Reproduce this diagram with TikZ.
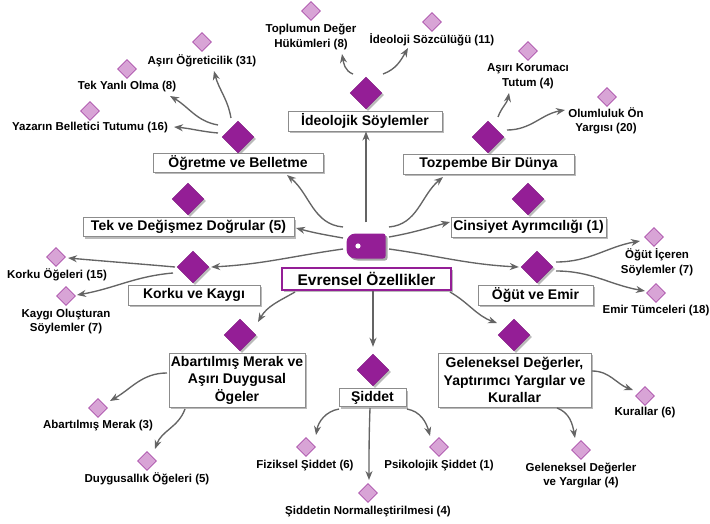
\documentclass[tikz,border=0pt]{standalone}
\usepackage{fontspec}
\setmainfont{Liberation Sans}
\usetikzlibrary{shapes.geometric,shadows,arrows.meta,calc}
\definecolor{dpurple}{RGB}{148,30,150}
\definecolor{lpurple}{RGB}{216,164,214}
\definecolor{lborder}{RGB}{170,80,170}
\definecolor{conncol}{RGB}{100,100,100}
\definecolor{boxborder}{RGB}{140,140,140}
\begin{document}
\begin{tikzpicture}[x=1pt,y=1pt,
  shad/.style={drop shadow={shadow xshift=2pt,shadow yshift=-2pt,fill=black!45,opacity=0.6}},
  mainbox/.style={draw=boxborder, line width=0.9pt, fill=white, inner sep=0pt,
    font=\fontsize{14}{17.5}\selectfont\bfseries, align=center, shad},
  bigdia/.style={diamond, fill=dpurple, draw=dpurple!85!black, line width=0.4pt,
    minimum width=32pt, minimum height=32pt, inner sep=0pt, shad},
  smalldia/.style={diamond, fill=lpurple, draw=lborder, line width=0.7pt,
    minimum width=19pt, minimum height=19pt, inner sep=0pt},
  leaf/.style={font=\fontsize{11.5}{14.5}\selectfont\bfseries, align=center, inner sep=0pt},
  conn/.style={draw=conncol, line width=1.35pt, -{Stealth[length=9pt,width=7pt]}}
]
\useasboundingbox (0,0) rectangle (710,-524);

% hub
\node[minimum width=39pt,minimum height=25pt,inner sep=0pt] (hub) at (366,-246) {};
\fill[black!35] (374,-235.5) [rounded corners=9pt] -- (348.5,-235.5) -- (348.5,-260.5) -- (374,-260.5)
  [rounded corners=2.5pt] -- (387.5,-260.5) -- (387.5,-235.5) -- cycle;
\fill[dpurple] (372,-233.5) [rounded corners=9pt] -- (346.5,-233.5) -- (346.5,-258.5) -- (372,-258.5)
  [rounded corners=2.5pt] -- (385.5,-258.5) -- (385.5,-233.5) -- cycle;
\fill[white] (358,-246) circle (2.6);

\node[mainbox, draw=dpurple, line width=1.6pt, font=\fontsize{15.5}{18}\selectfont\bfseries,
  minimum width=169pt, minimum height=22pt] (evr) at (366.5,-279) {Evrensel Özellikler};

% main diamonds and boxes
\node[bigdia] (ideod) at (366,-93) {};
\node[mainbox, minimum width=154pt, minimum height=20pt] (ideo) at (365,-121) {İdeolojik Söylemler};
\node[bigdia] (ogrd) at (238,-137) {};
\node[mainbox, minimum width=170pt, minimum height=19pt] (ogr) at (238,-163) {Öğretme ve Belletme};
\node[bigdia] (tozd) at (488,-137) {};
\node[mainbox, minimum width=171pt, minimum height=20pt] (toz) at (488.5,-164) {Tozpembe Bir Dünya};
\node[bigdia] (tekd) at (188,-199) {};
\node[mainbox, minimum width=211pt, minimum height=19pt] (tek) at (188.5,-227) {Tek ve Değişmez Doğrular (5)};
\node[bigdia] (cinsd) at (528,-199) {};
\node[mainbox, minimum width=155pt, minimum height=20pt] (cins) at (528.5,-227) {Cinsiyet Ayrımcılığı (1)};
\node[bigdia] (korkud) at (193,-267) {};
\node[mainbox, minimum width=132pt, minimum height=20pt] (korku) at (194,-295) {Korku ve Kaygı};
\node[bigdia] (ogutd) at (537,-267) {};
\node[mainbox, minimum width=115pt, minimum height=20pt] (ogut) at (535.5,-295) {Öğüt ve Emir};
\node[bigdia] (abard) at (240,-335) {};
\node[mainbox, minimum width=136pt, minimum height=54pt] (abar) at (237,-380) {Abartılmış Merak ve\\Aşırı Duygusal\\Ögeler};
\node[bigdia] (siddetd) at (373,-370) {};
\node[mainbox, minimum width=67pt, minimum height=18pt] (siddet) at (372.5,-397.5) {Şiddet};
\node[bigdia] (gelend) at (514,-335) {};
\node[mainbox, minimum width=153pt, minimum height=54pt] (gelen) at (514.5,-380) {Geleneksel Değerler,\\Yaptırımcı Yargılar ve\\Kurallar};

% leaves
\node[smalldia] (l1) at (202,-42) {};  \node[leaf] (t1) at (202,-61) {Aşırı Öğreticilik (31)};
\node[smalldia] (l2) at (127,-69) {};  \node[leaf] (t2) at (127,-87) {Tek Yanlı Olma (8)};
\node[smalldia] (l3) at (90,-111) {};  \node[leaf] (t3) at (90,-128) {Yazarın Belletici Tutumu (16)};
\node[smalldia] (l4) at (311,-11) {};  \node[leaf] (t4) at (311,-37) {Toplumun Değer\\Hükümleri (8)};
\node[smalldia] (l5) at (432,-22) {};  \node[leaf] (t5) at (432,-40) {İdeoloji Sözcülüğü (11)};
\node[smalldia] (l6) at (528,-51) {};  \node[leaf] (t6) at (528,-76) {Aşırı Korumacı\\Tutum (4)};
\node[smalldia] (l7) at (607,-97) {};  \node[leaf] (t7) at (606,-121) {Olumluluk Ön\\Yargısı (20)};
\node[smalldia] (l8) at (56,-257) {};  \node[leaf] (t8) at (57,-275) {Korku Öğeleri (15)};
\node[smalldia] (l9) at (66,-296) {};  \node[leaf] (t9) at (66,-321.5) {Kaygı Oluşturan\\Söylemler (7)};
\node[smalldia] (l10) at (654,-237) {}; \node[leaf] (t10) at (657,-262.5) {Öğüt İçeren\\Söylemler (7)};
\node[smalldia] (l11) at (656,-293) {}; \node[leaf] (t11) at (656,-311) {Emir Tümceleri (18)};
\node[smalldia] (l12) at (98,-408) {};  \node[leaf] (t12) at (98,-426) {Abartılmış Merak (3)};
\node[smalldia] (l13) at (147,-461) {}; \node[leaf] (t13) at (147,-479) {Duygusallık Öğeleri (5)};
\node[smalldia] (l14) at (306,-447) {}; \node[leaf] (t14) at (305,-466) {Fiziksel Şiddet (6)};
\node[smalldia] (l15) at (439,-447) {}; \node[leaf] (t15) at (439,-466) {Psikolojik Şiddet (1)};
\node[smalldia] (l16) at (368,-493) {}; \node[leaf] (t16) at (368,-512) {Şiddetin Normalleştirilmesi (4)};
\node[smalldia] (l17) at (645,-396) {}; \node[leaf] (t17) at (645,-413) {Kurallar (6)};
\node[smalldia] (l18) at (581,-450) {}; \node[leaf] (t18) at (581,-475.5) {Geleneksel Değerler\\ve Yargılar (4)};

% main connectors
\draw[conn, shorten <=11pt] (hub.north) -- (hub.north |- ideo.south);
\draw[conn] ($(hub)+(-23,19)$) to[out=175,in=-40] ($(ogr)+(49,-12)$);
\draw[conn] ($(hub)+(23,19)$) to[out=5,in=-140] ($(toz)+(-45.5,-13)$);
\draw[conn] ($(hub)+(-23,8)$) to[out=170,in=-15] ($(tek)+(107.5,-1)$);
\draw[conn] ($(hub)+(23,9)$) to[out=10,in=195] ($(cins)+(-78.5,5)$);
\draw[conn] ($(hub)+(-23,-3)$) to[out=188,in=3] ($(korkud.east)+(2,0)$);
\draw[conn] ($(hub)+(23,-3)$) to[out=-8,in=177] ($(ogutd.west)+(-2,0)$);
\draw[conn] ($(evr)+(-71.5,-13)$) to[out=-150,in=60] ($(abard)+(18,13)$);
\draw[conn] (evr.south -| siddetd) -- ($(siddetd.north)+(0,7)$);
\draw[conn] ($(evr)+(83.5,-13)$) to[out=-30,in=160] ($(gelend)+(-17,12)$);

% sub connectors
\draw[conn] ($(ogrd)+(-7,19)$) to[out=100,in=-75] ($(t1)+(12,-10)$);
\draw[conn] ($(ogrd)+(-20,12)$) to[out=170,in=-30] ($(t2)+(43,-9)$);
\draw[conn] ($(ogrd)+(-20,4)$) to[out=175,in=-5] ($(t3)+(84,1)$);
\draw[conn] ($(ideod)+(-13,19)$) to[out=160,in=-80] ($(t4)+(31,-17)$);
\draw[conn] ($(ideod)+(17,19)$) to[out=20,in=-120] ($(t5)+(-24,-8)$);
\draw[conn] ($(tozd)+(10,20)$) to[out=70,in=-100] ($(t6)+(-19,-17)$);
\draw[conn] ($(tozd)+(19,7)$) to[out=0,in=190] ($(t7)+(-41,11)$);
\draw[conn] ($(korkud)+(-18,0)$) to[out=175,in=-5] ($(l8)+(12,-1)$);
\draw[conn] ($(korkud)+(-20,-6)$) to[out=185,in=10] ($(l9)+(11,1)$);
\draw[conn] ($(ogutd)+(19,5)$) to[out=0,in=190] ($(l10)+(-14,-4)$);
\draw[conn] ($(ogutd)+(19,-4)$) to[out=0,in=170] ($(l11)+(-11,2)$);
\draw[conn] ($(abar)+(-70,7)$) to[out=180,in=30] ($(l12)+(12,7)$);
\draw[conn] ($(abar)+(-52,-29)$) to[out=-110,in=70] ($(l13)+(8,12)$);
\draw[conn] ($(siddet)+(-33.5,-11.5)$) to[out=190,in=80] ($(l14)+(10,12)$);
\draw[conn] ($(siddet)+(-2.5,-10.5)$) to[out=-92,in=90] ($(l16)+(1,13)$);
\draw[conn] ($(siddet)+(34.5,-11.5)$) to[out=-10,in=105] ($(l15)+(-9,11)$);
\draw[conn] ($(gelen)+(77.5,9)$) to[out=0,in=160] ($(l17)+(-12,6)$);
\draw[conn] ($(gelen)+(42.5,-28)$) to[out=-20,in=100] ($(l18)+(-6,12)$);
\end{tikzpicture}
\end{document}
